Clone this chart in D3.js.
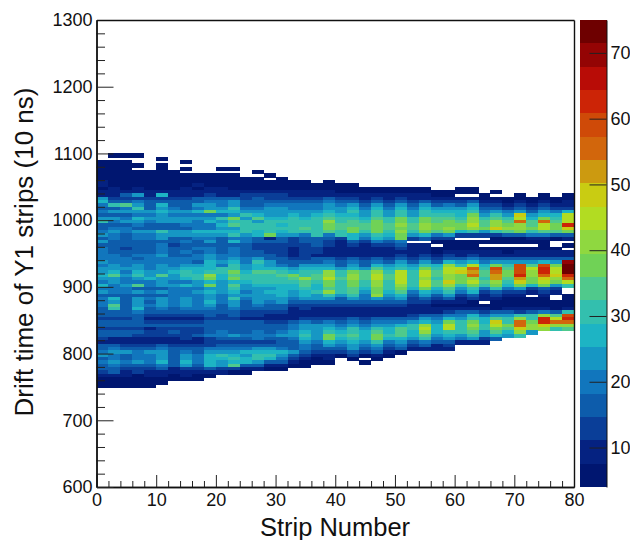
<!DOCTYPE html>
<html>
<head>
<meta charset="utf-8">
<script src="https://cdn.jsdelivr.net/npm/d3@7"></script>
<style>
  html, body { margin: 0; background: #fff; }
  text { font-family: "Liberation Sans", Arial, sans-serif; fill: #111; }
</style>
</head>
<body>
<div id="chart"></div>
<script>
const palette = [
  "#001670", "#052281", "#0a3e98", "#0d5cab", "#1176bd", "#1697c4", "#1db4c4",
  "#33bfae", "#4fc98c", "#70d256", "#8fd840", "#b2dc22", "#c9cc12", "#cc9a10",
  "#d2660c", "#cf4a08", "#cc2406", "#b80c06", "#940404", "#6e0000"
];
const zRange = [4, 75];
const xTicksMajor = [0, 10, 20, 30, 40, 50, 60, 70, 80];
const yTicksMajor = [600, 700, 800, 900, 1000, 1100, 1200, 1300];
const zTicks = [10, 20, 30, 40, 50, 60, 70];
const stripBin = 2;
const timeBin = 5;
const timeTop = 1100;

// one row per 5 ns time bin, from 1100 downwards; one entry per 2-strip bin
const counts = [
  [0,5,4,4],
  [0,0,0,0,0,5],
  [5,5,5,0,0,0,0,5],
  [5,6,6,5,0,5],
  [6,6,6,0,0,6,0,5,0,0,5,5],
  [6,6,6,5,5,6,5,0,0,0,0,0,0,5],
  [7,6,7,6,6,7,6,6,6,5,6,5,0,0,5],
  [7,7,6,7,6,6,6,6,7,6,6,6,5,5,0,5],
  [8,7,7,6,7,7,6,7,6,6,7,6,6,6,6,6,5,5,0,5],
  [8,7,6,6,7,7,7,7,8,7,7,7,6,7,7,6,6,6,5,6,5,5],
  [7,8,7,8,7,6,7,8,7,8,8,7,7,6,7,7,6,7,6,6,6,6,5,5,5,5,5,5,0,0,5,5],
  [9,9,9,9,9,9,9,10,10,10,10,9,9,9,9,9,9,8,8,8,7,7,6,6,6,7,6,7,5,5,6,6,0,5],
  [11,11,15,24,10,26,9,10,11,12,11,11,12,13,12,12,11,10,10,11,9,9,8,9,8,9,8,9,6,7,0,0,5,0,0,5,0,5,0,5],
  [24,14,14,14,13,14,13,13,15,15,15,16,14,15,14,14,14,13,13,16,12,13,10,13,10,12,9,11,8,9,9,10,6,7,6,7,6,6,6,6],
  [26,17,18,20,16,18,15,18,18,20,19,22,17,18,18,17,17,18,18,20,16,18,13,18,14,18,13,17,12,14,13,16,9,9,7,8,7,8,7,8],
  [19,32,33,22,18,26,17,18,22,24,21,25,18,18,20,19,19,20,20,22,19,22,18,23,18,23,17,22,17,20,18,22,13,13,10,12,9,12,9,11],
  [16,18,19,30,18,22,19,18,21,24,23,31,20,20,22,22,20,21,21,25,23,26,20,27,20,26,20,26,22,24,22,26,16,17,13,16,13,16,13,14],
  [21,25,24,23,24,26,24,24,26,37,26,26,23,25,23,24,22,25,23,28,25,29,23,30,23,30,23,29,26,28,26,31,20,24,20,22,18,24,20,26],
  [17,16,18,21,20,22,21,19,21,19,21,25,29,27,25,23,27,25,26,29,26,28,23,31,25,32,25,32,29,31,28,36,24,30,24,48,22,28,26,44],
  [23,22,21,26,22,25,22,24,24,25,29,36,25,33,27,27,29,27,29,33,29,31,27,35,29,36,29,36,33,34,32,40,29,35,30,44,28,36,31,44],
  [30,21,22,23,21,24,23,22,21,26,25,29,31,25,29,30,29,31,32,40,31,33,29,37,32,36,32,37,35,38,35,42,33,40,34,54,33,55,35,46],
  [17,16,18,19,17,17,16,21,19,20,27,33,29,29,32,28,31,29,30,37,33,35,33,38,33,42,34,40,36,39,36,44,35,42,37,42,35,44,38,62],
  [18,20,19,18,17,18,17,18,19,21,22,24,32,30,32,29,29,33,31,37,34,37,34,37,34,39,34,40,36,40,37,40,36,48,40,42,36,46,37,50],
  [20,24,21,25,23,29,22,24,26,28,27,28,30,27,32,26,30,29,32,33,32,37,32,38,31,40,32,36,34,38,26,30,24,32,33,37,31,35,33,38],
  [24,20,18,20,21,23,22,24,22,25,22,30,24,28,36,25,22,20,29,20,30,28,24,32,26,36,24,28,21,23,14,14,12,13,15,15,19,21,15,16],
  [18,19,17,21,19,22,18,18,20,21,18,20,20,17,10,17,14,15,18,16,12,26,20,28,24,38,14,16,12,13,0,0,0,7,7,7,8,9,7,9],
  [22,18,15,17,15,16,15,19,18,22,16,26,19,16,15,17,13,16,16,14,11,16,13,20,16,20,0,0,7,7,7,7,6,6,6,7,6,7,0,0],
  [16,15,15,16,16,20,14,15,16,17,15,15,17,14,13,14,12,14,15,12,10,12,11,14,12,16,10,10,0,6,6,6,0,0,0,0,0,6,0,7],
  [19,15,13,15,17,20,15,16,19,21,16,20,15,13,14,13,11,13,13,11,9,11,10,11,11,13,9,9,7,6,6,7,6,6,6,6,6,6,7,0],
  [20,16,17,17,16,19,16,19,17,20,18,19,18,15,14,14,11,12,12,10,9,10,9,10,9,11,8,9,7,8,8,10,8,8,7,8,8,8,9,8],
  [19,20,16,19,20,22,18,18,20,22,19,21,18,18,16,13,10,12,11,11,10,11,9,11,10,13,10,12,10,12,11,14,10,11,9,10,9,10,11,11],
  [20,21,19,18,19,21,19,19,21,24,20,23,19,24,17,15,13,14,17,15,12,15,12,15,13,17,14,18,14,18,15,20,15,17,15,16,15,17,15,16],
  [22,19,21,20,19,19,21,20,18,26,22,26,21,30,22,18,15,17,18,20,16,19,16,20,18,22,18,24,18,26,22,28,20,24,22,24,24,28,24,70],
  [21,24,20,22,19,22,20,23,24,28,21,30,22,27,25,20,18,22,24,22,18,22,18,27,24,27,22,30,28,40,30,44,28,38,30,58,34,60,36,74],
  [25,23,22,24,21,24,22,28,26,27,30,31,24,28,28,26,22,28,26,28,24,28,24,34,28,30,26,36,30,44,46,55,30,58,34,60,45,62,44,74],
  [24,28,21,26,23,25,27,29,28,32,30,36,28,34,34,30,28,30,32,40,32,38,33,42,32,46,30,46,33,46,50,52,34,54,36,60,42,62,44,73],
  [28,34,22,29,24,34,25,30,32,40,28,33,30,31,32,34,38,32,34,40,30,42,33,45,35,45,32,44,34,42,36,56,34,52,37,62,40,56,48,62],
  [23,24,20,23,28,24,23,28,29,37,26,36,30,32,30,31,33,40,35,46,33,43,34,46,35,46,32,42,32,40,36,42,32,52,33,52,38,50,40,55],
  [20,22,19,21,20,22,21,21,24,28,24,28,26,29,30,29,31,33,29,37,31,38,31,41,32,44,32,44,34,48,38,46,34,42,31,50,36,46,38,46],
  [26,20,22,35,19,23,22,26,22,38,25,34,24,28,26,28,26,33,27,38,31,38,29,43,30,41,32,44,33,40,31,38,29,38,27,36,27,38,25,32],
  [19,20,20,18,16,18,19,20,20,24,23,29,22,25,24,26,28,29,27,33,29,34,27,38,29,37,26,37,26,34,25,30,21,30,19,24,14,18,14,0],
  [22,21,19,22,20,23,21,20,24,26,22,26,20,24,26,26,24,27,29,40,29,33,25,36,27,34,20,28,23,30,19,26,14,18,14,14,10,12,10,0],
  [18,17,16,17,17,18,19,19,21,22,19,23,22,24,24,28,22,27,23,29,23,29,21,42,23,26,16,24,18,25,13,16,10,12,10,9,0,8,0,6],
  [20,28,17,22,19,24,20,24,21,24,20,30,21,24,22,24,20,22,22,24,18,23,19,25,21,24,14,18,14,15,10,12,8,8,7,7,6,6,0,5],
  [19,22,16,23,18,22,19,22,21,26,20,24,18,22,20,22,17,18,17,18,15,18,15,18,15,17,12,12,9,10,8,7,0,6,5,6,5,5,5,5],
  [21,34,18,24,19,23,19,22,20,23,18,22,17,20,18,18,13,13,13,13,12,12,12,13,12,13,9,8,7,7,6,6,5,6,5,5,5,5,5,5],
  [18,30,17,26,18,20,18,19,19,21,17,20,16,17,16,15,11,12,10,10,10,9,9,9,9,10,8,8,8,8,10,11,8,7,10,9,9,8,7,8],
  [17,18,15,20,16,18,16,18,16,18,15,17,14,13,12,12,10,10,9,8,8,8,8,8,8,9,9,10,10,12,15,17,14,16,15,14,15,21,18,30],
  [16,17,15,18,14,12,12,12,13,15,14,15,12,12,11,11,9,10,9,9,9,10,9,10,10,11,13,15,15,19,20,26,20,24,22,32,29,42,34,60],
  [12,13,12,16,11,11,10,11,11,12,12,13,11,11,10,10,11,12,12,13,13,15,13,15,15,17,18,22,20,28,24,32,26,34,30,42,32,62,44,62],
  [16,17,15,15,14,14,12,12,12,15,15,15,15,15,13,14,16,19,16,19,18,19,17,20,19,21,23,28,24,36,30,36,28,48,32,56,36,62,54,56],
  [15,18,17,16,15,16,16,16,15,17,17,17,17,17,15,16,20,23,22,23,21,25,21,25,23,28,30,42,28,46,32,40,32,44,37,56,42,50,40,42],
  [13,14,13,12,11,13,12,12,13,17,16,18,18,18,16,18,21,25,23,27,25,29,25,31,28,33,30,45,28,44,32,38,30,38,33,48,42,42,32,34],
  [16,16,17,15,14,14,16,14,14,18,19,18,18,20,18,20,22,27,25,29,27,32,27,34,28,33,28,42,26,32,29,34,25,34,26,40,22],
  [18,15,16,13,12,12,13,13,15,19,20,22,19,21,20,22,25,30,25,36,29,34,28,38,29,33,27,33,24,28,24,30,22,28,24,30],
  [12,11,11,11,10,10,10,12,11,14,16,18,17,19,18,18,21,28,22,38,26,30,26,38,27,27,25,30,20,23,19,22,14,18],
  [11,11,10,11,9,11,10,10,10,12,13,14,14,14,14,16,18,22,20,28,24,26,22,30,21,23,18,20,15,17,9,9,9],
  [16,17,12,14,13,18,13,12,12,13,16,18,18,16,16,17,16,20,18,22,20,24,20,24,18,19,14,15,11,13],
  [18,20,16,17,18,20,16,18,17,19,20,21,20,24,22,20,18,19,17,18,16,22,18,19,14,15,8,9,8,8],
  [20,24,22,19,22,24,18,21,18,24,22,24,28,26,26,28,22,17,13,14,14,18,14,15,10,7],
  [22,19,18,20,21,24,16,22,20,28,30,26,24,30,30,22,18,14,10,11,7,12,7,10,5],
  [18,20,17,21,19,22,17,24,21,26,28,30,28,32,28,20,13,10,7,8,0,7,0,7],
  [21,24,19,22,19,26,18,28,19,28,24,28,26,24,18,15,8,6,5,6,0,0,5],
  [17,21,16,18,17,20,16,22,18,26,22,35,18,15,11,10,6,5],
  [15,16,12,13,14,15,11,14,14,15,13,14,11,8,7,7],
  [13,15,10,12,11,10,9,11,10,11,9,7,5],
  [10,11,9,7,8,8,7,8,7,7],
  [7,6,6,5,5,6,5,5,5],
  [5,5,5,5,5,5],
  [5,5,5,5,5]
];

const width = 630, height = 540;
const plot = {left: 96.5, right: 574, top: 20, bottom: 487};
const bar = {left: 579.5, right: 606.5};

const svg = d3.select("#chart").append("svg")
    .attr("width", width)
    .attr("height", height)
    .style("display", "block");

const xScale = d3.scaleLinear().domain([0, 80]).range([plot.left, plot.right]);
const yScale = d3.scaleLinear().domain([600, 1300]).range([plot.bottom, plot.top]);
const zScale = d3.scaleLinear().domain(zRange).range([plot.bottom, plot.top]);
const colorScale = d3.scaleQuantize().domain(zRange).range(palette);

// heat map cells
const cells = [];
counts.forEach((row, r) => {
  row.forEach((v, c) => {
    if (v > 0) cells.push({r: r, c: c, v: v});
  });
});

// cells run one pixel long downwards, the next row paints over it
svg.append("g")
    .attr("shape-rendering", "crispEdges")
    .selectAll("rect")
    .data(cells)
    .join("rect")
    .attr("x", d => xScale(d.c * stripBin))
    .attr("width", d => xScale((d.c + 1) * stripBin) - xScale(d.c * stripBin))
    .attr("y", d => yScale(timeTop - d.r * timeBin))
    .attr("height", d => yScale(timeTop - (d.r + 1) * timeBin) - yScale(timeTop - d.r * timeBin) + 1)
    .attr("fill", d => colorScale(d.v));

// colour bar
const zStep = (zRange[1] - zRange[0]) / palette.length;
svg.append("g")
    .attr("shape-rendering", "crispEdges")
    .selectAll("rect")
    .data(palette)
    .join("rect")
    .attr("x", bar.left)
    .attr("width", bar.right - bar.left)
    .attr("y", (d, i) => zScale(zRange[0] + (i + 1) * zStep))
    .attr("height", zScale(zRange[0]) - zScale(zRange[0] + zStep))
    .attr("fill", d => d);

function styleAxis(g, size) {
  g.selectAll("path").attr("stroke", "#111").attr("stroke-width", 1.4);
  g.selectAll("line").attr("stroke", "#222").attr("stroke-width", 1);
  g.selectAll("text").style("font-size", size + "px").attr("fill", "#111");
}

const xMinor = d3.range(0, 81, 2).filter(v => v % 10 != 0);
const yMinor = d3.range(600, 1301, 20).filter(v => v % 100 != 0);

svg.append("g")
    .attr("transform", `translate(0,${plot.bottom})`)
    .call(d3.axisBottom(xScale).tickValues(xMinor).tickSize(-6).tickSizeOuter(0).tickFormat(""))
    .call(g => styleAxis(g, 18));
svg.append("g")
    .attr("transform", `translate(0,${plot.bottom})`)
    .call(d3.axisBottom(xScale).tickValues(xTicksMajor).tickSize(-12).tickSizeOuter(0).tickPadding(6).tickFormat(d3.format("d")))
    .call(g => styleAxis(g, 18))
    .call(g => g.selectAll("text").attr("y", 19).attr("dy", "0"));

svg.append("g")
    .attr("transform", `translate(${plot.left},0)`)
    .call(d3.axisLeft(yScale).tickValues(yMinor).tickSize(-8.5).tickSizeOuter(0).tickFormat(""))
    .call(g => styleAxis(g, 18));
svg.append("g")
    .attr("transform", `translate(${plot.left},0)`)
    .call(d3.axisLeft(yScale).tickValues(yTicksMajor).tickSize(-17).tickSizeOuter(0).tickPadding(4).tickFormat(d3.format("d")))
    .call(g => styleAxis(g, 18));

// frame top and right
svg.append("g").attr("transform", `translate(0,${plot.top})`)
    .call(d3.axisTop(xScale).tickValues([]).tickSizeOuter(0))
    .call(g => styleAxis(g, 18));
svg.append("g").attr("transform", `translate(${plot.right},0)`)
    .call(d3.axisRight(yScale).tickValues([]).tickSizeOuter(0))
    .call(g => styleAxis(g, 18));

// colour bar axis
svg.append("g")
    .attr("transform", `translate(${bar.right},0)`)
    .call(d3.axisRight(zScale).tickValues(zTicks).tickSize(-17).tickSizeOuter(0).tickPadding(4).tickFormat(d3.format("d")))
    .call(g => styleAxis(g, 18))
    .call(g => g.selectAll("text").attr("x", 4))
    .call(g => g.select("path").attr("stroke-width", 1));

svg.append("text")
    .attr("x", 335)
    .attr("y", 536)
    .attr("text-anchor", "middle")
    .style("font-size", "25.5px")
    .text("Strip Number");

svg.append("text")
    .attr("transform", "translate(33,252) rotate(-90)")
    .attr("text-anchor", "middle")
    .style("font-size", "26px")
    .text("Drift time of Y1 strips (10 ns)");
</script>
</body>
</html>
